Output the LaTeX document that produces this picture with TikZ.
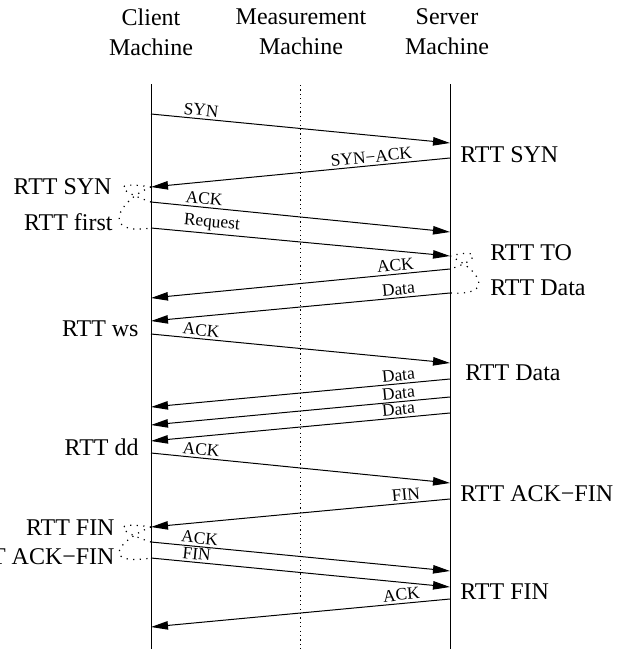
\documentclass[tikz,border=0pt]{standalone}
\usepackage{fontspec}
\setmainfont{Liberation Serif}
\usetikzlibrary{arrows.meta}
\tikzset{
    msg/.style={line width=0.5pt, -{Triangle[length=8.5pt,width=4.2pt]}},
    msglabel/.style={font=\fontsize{8.7}{10}\selectfont, sloped, above, inner sep=1.2pt},
    rtt/.style={font=\fontsize{12}{15}\selectfont, inner sep=0pt},
    rttlink/.style={line width=0.6pt, dash pattern=on 0.6pt off 2.7pt},
    lifeline/.style={line width=0.5pt}
}
\begin{document}
\begin{tikzpicture}[x=0.5pt, y=-0.5pt]
        \useasboundingbox (0,0) rectangle (620,649);
        \foreach \name/\txt/\x in {client/Client/151, measure/Measurement/301, server/Server/447}
            \node[rtt, align=center] (\name) at (\x,32) {\txt\\Machine};

        \coordinate (client-top) at (151,84);
        \coordinate (client-end) at (151,649);
        \coordinate (measure-top) at (300,85);
        \coordinate (measure-end) at (300,649);
        \coordinate (server-top) at (450,84);
        \coordinate (server-end) at (450,649);
        \draw [lifeline] (client-top) -- (client-end);
        \draw [lifeline, dash pattern=on 0.6pt off 1.6pt] (measure-top) -- (measure-end);
        \draw [lifeline] (server-top) -- (server-end);

        \foreach \n/\ya/\yb/\txt/\p in {syn/114/143/SYN/0.165, ack1/202/232/ACK/0.175,
                req/228/256/Request/0.2, ack2/334/363/ACK/0.165, ack3/453/483/ACK/0.165,
                ack4/542/571/ACK/0.16, fin2/558/587/FIN/0.15}
        {
            \coordinate (\n-a) at (151,\ya);
            \coordinate (\n-b) at (450,\yb);
            \draw [msg] (\n-a) -- node[msglabel, pos=\p] {\txt} (\n-b);
        }
        \foreach \n/\ya/\yb/\txt/\p in {synack/158/187/SYN−ACK/0.26, ack5/269/298/ACK/0.18,
                data1/293/321/Data/0.17, data2/379/407/Data/0.17, data3/397/425/Data/0.17,
                data4/413/441/Data/0.17, fin1/499/527/FIN/0.145, ack6/599/627/ACK/0.16}
        {
            \coordinate (\n-a) at (450,\ya);
            \coordinate (\n-b) at (151,\yb);
            \draw [msg] (\n-a) -- node[msglabel, pos=\p] {\txt} (\n-b);
        }

        \foreach \name/\x/\y/\txt in {synr/460/155/RTT SYN, tor/490/253/RTT TO, datar/490/288/RTT Data,
                datar2/465/373/RTT Data, ackfinr/460/494/RTT ACK−FIN, finr/460/592/RTT FIN}
            \node[rtt, anchor=west] (\name) at (\x,\y) {\txt};
        \foreach \name/\x/\y/\txt in {synl/112/187/RTT SYN, firstl/113/222/RTT first, wsl/139/329/RTT ws,
                ddl/139/447/RTT dd, finl/115/528/RTT FIN, ackfinl/115/557/RTT ACK−FIN}
            \node[rtt, anchor=east] (\name) at (\x,\y) {\txt};

        \draw [rttlink] (synack-b) .. controls (112,181) and (116,190) .. (ack1-a);
        \draw [rttlink] (synack-b) .. controls (118,200) and (100,236) .. (req-a);
        \draw [rttlink] (req-b) .. controls (482,248) and (480,260) .. (ack5-a);
        \draw [rttlink] (req-b) .. controls (480,270) and (496,296) .. (data1-a);
        \draw [rttlink] (fin1-b) .. controls (112,521) and (116,531) .. (ack4-a);
        \draw [rttlink] (fin1-b) .. controls (118,540) and (100,566) .. (fin2-a);
    \end{tikzpicture}
\end{document}
